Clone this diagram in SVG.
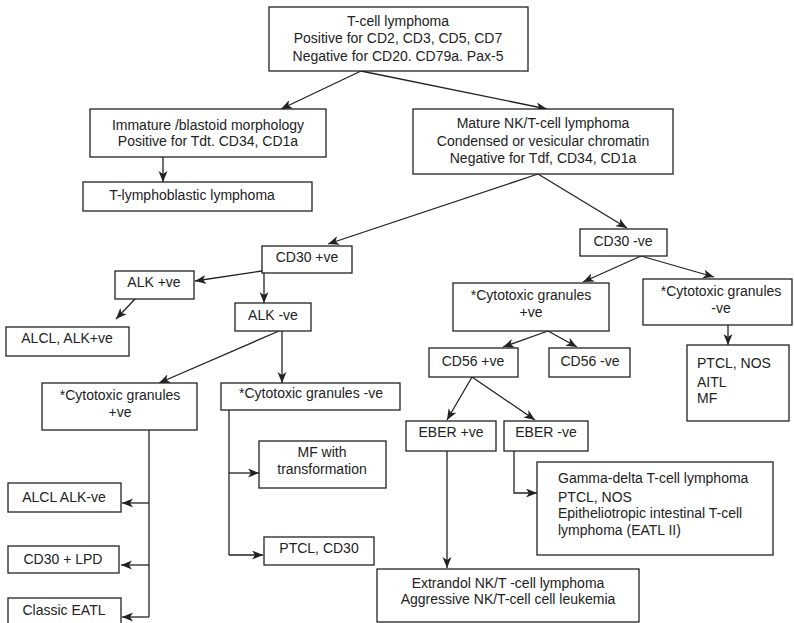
<svg xmlns="http://www.w3.org/2000/svg" width="794" height="623" viewBox="0 0 794 623">
<style>
.b{fill:#fff;stroke:#222;stroke-width:1.3}
.t{font-family:"Liberation Sans",Arial,sans-serif;font-size:14px;fill:#222;text-anchor:middle}
.l{text-anchor:start}
.c{fill:none;stroke:#222;stroke-width:1.3}
</style>
<defs>
<marker id="a" markerUnits="userSpaceOnUse" markerWidth="12" markerHeight="10" refX="11" refY="4.5" orient="auto">
<path d="M0,0 L11,4.5 L0,9 L3,4.5 z" fill="#222"/>
</marker>
</defs>
<rect width="794" height="623" fill="#fff"/>
<g id="connectors">
<line class="c" x1="361" y1="71" x2="281" y2="109" marker-end="url(#a)"/>
<line class="c" x1="361" y1="71" x2="547" y2="109" marker-end="url(#a)"/>
<line class="c" x1="163" y1="157" x2="163" y2="182" marker-end="url(#a)"/>
<line class="c" x1="538" y1="174" x2="328" y2="244" marker-end="url(#a)"/>
<line class="c" x1="538" y1="174" x2="627" y2="228" marker-end="url(#a)"/>
<line class="c" x1="262" y1="271" x2="195" y2="281" marker-end="url(#a)"/>
<line class="c" x1="264" y1="273" x2="264" y2="303" marker-end="url(#a)"/>
<line class="c" x1="135" y1="299" x2="116" y2="319" marker-end="url(#a)"/>
<line class="c" x1="279" y1="331" x2="159" y2="383" marker-end="url(#a)"/>
<line class="c" x1="282" y1="331" x2="282" y2="383" marker-end="url(#a)"/>
<line class="c" x1="149" y1="430" x2="149" y2="617"/>
<line class="c" x1="149" y1="503" x2="122" y2="503" marker-end="url(#a)"/>
<line class="c" x1="149" y1="565" x2="121" y2="565" marker-end="url(#a)"/>
<line class="c" x1="149" y1="617" x2="122" y2="617" marker-end="url(#a)"/>
<line class="c" x1="229" y1="410" x2="229" y2="555"/>
<line class="c" x1="229" y1="473" x2="259" y2="473" marker-end="url(#a)"/>
<line class="c" x1="229" y1="555" x2="263" y2="555" marker-end="url(#a)"/>
<line class="c" x1="641" y1="256" x2="583" y2="282" marker-end="url(#a)"/>
<line class="c" x1="641" y1="256" x2="714" y2="277" marker-end="url(#a)"/>
<line class="c" x1="728" y1="325" x2="728" y2="345" marker-end="url(#a)"/>
<line class="c" x1="548" y1="331" x2="503" y2="347" marker-end="url(#a)"/>
<line class="c" x1="548" y1="331" x2="577" y2="347" marker-end="url(#a)"/>
<line class="c" x1="472" y1="377" x2="447" y2="420" marker-end="url(#a)"/>
<line class="c" x1="472" y1="377" x2="535" y2="420" marker-end="url(#a)"/>
<line class="c" x1="447" y1="451" x2="447" y2="568" marker-end="url(#a)"/>
<polyline class="c" points="514,451 514,493 537,493" marker-end="url(#a)"/>
</g>
<g id="n1"><rect class="b" x="269" y="7" width="259" height="64"/>
<text class="t" x="398" y="26">T-cell lymphoma</text>
<text class="t" x="398" y="43">Positive for CD2, CD3, CD5, CD7</text>
<text class="t" x="398" y="61">Negative for CD20. CD79a. Pax-5</text></g>
<g id="n2"><rect class="b" x="90" y="109" width="236" height="48"/>
<text class="t" x="208" y="130">Immature /blastoid morphology</text>
<text class="t" x="208" y="146">Positive for Tdt. CD34, CD1a</text></g>
<g id="n3"><rect class="b" x="83" y="182" width="229" height="29"/>
<text class="t" x="192" y="200">T-lymphoblastic lymphoma</text></g>
<g id="n4"><rect class="b" x="413" y="109" width="260" height="65"/>
<text class="t" x="543" y="128">Mature NK/T-cell lymphoma</text>
<text class="t" x="543" y="146">Condensed or vesicular chromatin</text>
<text class="t" x="543" y="163">Negative for Tdf, CD34, CD1a</text></g>
<g id="n5"><rect class="b" x="262" y="246" width="90" height="27"/>
<text class="t" x="307" y="262">CD30 +ve</text></g>
<g id="n6"><rect class="b" x="580" y="229" width="87" height="27"/>
<text class="t" x="623" y="246">CD30 -ve</text></g>
<g id="n7"><rect class="b" x="115" y="271" width="79" height="28"/>
<text class="t" x="154" y="287">ALK +ve</text></g>
<g id="n8"><rect class="b" x="235" y="303" width="76" height="28"/>
<text class="t" x="273" y="320">ALK -ve</text></g>
<g id="n9"><rect class="b" x="6" y="327" width="123" height="29"/>
<text class="t" x="67" y="343">ALCL, ALK+ve</text></g>
<g id="n10"><rect class="b" x="42" y="383" width="155" height="47"/>
<text class="t" x="120" y="400">*Cytotoxic granules</text>
<text class="t" x="120" y="417">+ve</text></g>
<g id="n11"><rect class="b" x="221" y="383" width="179" height="27"/>
<text class="t" x="311" y="398">*Cytotoxic granules -ve</text></g>
<g id="n12"><rect class="b" x="8" y="483" width="113" height="29"/>
<text class="t" x="64" y="502">ALCL ALK-ve</text></g>
<g id="n13"><rect class="b" x="8" y="546" width="111" height="27"/>
<text class="t" x="63" y="564">CD30 + LPD</text></g>
<g id="n14"><rect class="b" x="8" y="598" width="113" height="30"/>
<text class="t" x="64" y="615">Classic EATL</text></g>
<g id="n15"><rect class="b" x="259" y="441" width="127" height="47"/>
<text class="t" x="322" y="457">MF with</text>
<text class="t" x="322" y="474">transformation</text></g>
<g id="n16"><rect class="b" x="264" y="537" width="110" height="28"/>
<text class="t" x="319" y="553">PTCL, CD30</text></g>
<g id="n17"><rect class="b" x="453" y="283" width="156" height="48"/>
<text class="t" x="531" y="300">*Cytotoxic granules</text>
<text class="t" x="531" y="317">+ve</text></g>
<g id="n18"><rect class="b" x="643" y="279" width="149" height="46"/>
<text class="t" x="721" y="296">*Cytotoxic granules</text>
<text class="t" x="721" y="313">-ve</text></g>
<g id="n19"><rect class="b" x="687" y="345" width="102" height="76"/>
<text class="t l" x="697" y="368">PTCL, NOS</text>
<text class="t l" x="697" y="387">AITL</text>
<text class="t l" x="697" y="403">MF</text></g>
<g id="n20"><rect class="b" x="429" y="348" width="89" height="29"/>
<text class="t" x="473" y="366">CD56 +ve</text></g>
<g id="n21"><rect class="b" x="549" y="348" width="81" height="29"/>
<text class="t" x="590" y="366">CD56 -ve</text></g>
<g id="n22"><rect class="b" x="406" y="421" width="90" height="30"/>
<text class="t" x="451" y="437">EBER +ve</text></g>
<g id="n23"><rect class="b" x="504" y="421" width="84" height="30"/>
<text class="t" x="546" y="437">EBER -ve</text></g>
<g id="n24"><rect class="b" x="537" y="462" width="236" height="93"/>
<text class="t l" x="558" y="483">Gamma-delta T-cell lymphoma</text>
<text class="t l" x="558" y="502">PTCL, NOS</text>
<text class="t l" x="558" y="518">Epitheliotropic intestinal T-cell</text>
<text class="t l" x="558" y="535">lymphoma (EATL II)</text></g>
<g id="n25"><rect class="b" x="377" y="569" width="262" height="53"/>
<text class="t" x="508" y="588">Extrandol NK/T -cell lymphoma</text>
<text class="t" x="508" y="604">Aggressive NK/T-cell cell leukemia</text></g>
</svg>
